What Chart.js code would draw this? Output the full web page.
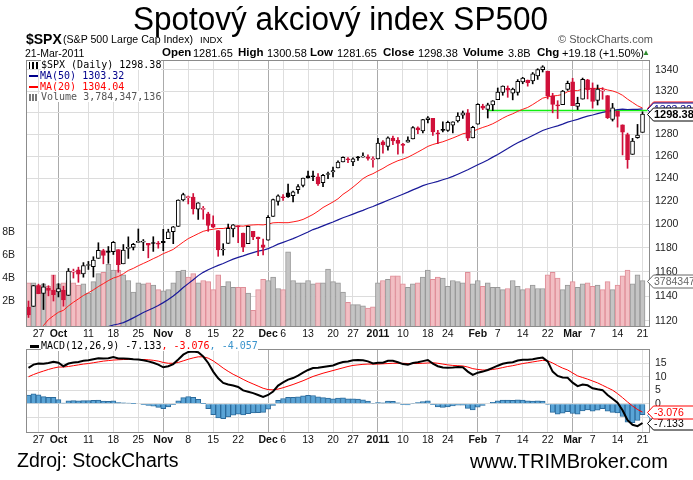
<!DOCTYPE html>
<html>
<head>
<meta charset="utf-8">
<title>SPX</title>
<script src="https://cdn.jsdelivr.net/npm/chart.js"></script>
<style>
  body { margin: 0; width: 693px; height: 480px; overflow: hidden; background: #fff; position: relative;
         font-family: "Liberation Sans", Arial, sans-serif; color: #000; }
  canvas { position: absolute; left: 0; }
  .t { position: absolute; white-space: nowrap; line-height: 1; }
  .lb { font-weight: bold; font-size: 11.5px; }
  .vl { font-size: 11px; }
  .leg { position: absolute; font-family: "DejaVu Sans Mono", monospace; font-size: 10px; line-height: 10.8px; white-space: nowrap; }
  .leg .tx { background: #fff; }
  .dash { display: inline-block; width: 9px; height: 2px; vertical-align: middle; margin: 0 2px 0 1px; }
</style>
</head>
<body>
<canvas id="priceChart" width="693" height="345" style="top:0"></canvas>
<canvas id="macdChart" width="693" height="112" style="top:338px"></canvas>

<div id="title" class="t" style="left:133px;top:1px;font-size:34px;transform-origin:0 0">Spotový akciový index SP500</div>

<div class="t" style="left:26px;top:32px;font-size:14px;font-weight:bold">$SPX</div>
<div class="t" style="left:63px;top:34px;font-size:10.6px">(S&amp;P 500 Large Cap Index)</div>
<div class="t" style="left:200px;top:35px;font-size:9.5px">INDX</div>
<div class="t" style="left:558px;top:34px;font-size:11px;color:#555">© StockCharts.com</div>
<div class="t" style="left:25px;top:48px;font-size:10.5px">21-Mar-2011</div>

<div class="t lb" style="left:162px;top:47px">Open</div><div class="t vl" style="left:193px;top:48px">1281.65</div>
<div class="t lb" style="left:238px;top:47px">High</div><div class="t vl" style="left:267px;top:48px">1300.58</div>
<div class="t lb" style="left:310px;top:47px">Low</div><div class="t vl" style="left:337px;top:48px">1281.65</div>
<div class="t lb" style="left:383px;top:47px">Close</div><div class="t vl" style="left:418px;top:48px">1298.38</div>
<div class="t lb" style="left:463px;top:47px">Volume</div><div class="t vl" style="left:508px;top:48px">3.8B</div>
<div class="t lb" style="left:537px;top:47px">Chg</div><div class="t vl" style="left:562px;top:48px">+19.18 (+1.50%)</div>
<div class="t" style="left:642px;top:49px;font-size:8px;color:#2e8b2e">▲</div>

<div class="leg" style="left:28px;top:60px">
  <div><span class="dash" style="width:10px;height:7px;background:linear-gradient(90deg,#000 0 1px,#fff 1px 3px,#000 3px 5px,#fff 5px 7px,#000 7px 9px,#fff 9px)"></span><span class="tx">$SPX (Daily) 1298.38</span></div>
  <div><span class="dash" style="background:#00008b"></span><span class="tx" style="color:#00008b">MA(50) 1303.32</span></div>
  <div><span class="dash" style="background:#f00"></span><span class="tx" style="color:#f00">MA(20) 1304.04</span></div>
  <div><span class="dash" style="width:10px;height:7px;background:linear-gradient(90deg,#777 0 2px,#fff 2px 3px,#777 3px 5px,#fff 5px 6px,#777 6px 8px,#fff 8px)"></span><span class="tx" style="color:#555">Volume 3,784,347,136</span></div>
</div>

<div class="leg" style="left:29px;top:341px">
  <span class="dash" style="height:3px;background:#000"></span><span class="tx">MACD(12,26,9) -7.133</span><span class="tx" style="color:#f00">, -3.076</span><span class="tx" style="color:#3a94cc">, -4.057</span>
</div>

<div class="t" style="left:17px;top:451px;font-size:19.5px">Zdroj: StockCharts</div>
<div class="t" style="left:470px;top:451px;font-size:20px">www.TRIMBroker.com</div>

<script>
// S&P 500 daily, 23-Sep-2010 .. 21-Mar-2011
const opens = [1131.1,1131.7,1148.6,1142.3,1146.6,1145.0,1143.5,1145.0,1140.7,1159.8,
  1161.6,1158.4,1165.3,1164.3,1171.3,1177.8,1177.5,1176.8,1178.6,1166.7,
  1179.6,1180.5,1184.7,1184.9,1183.8,1184.5,1183.9,1185.7,1187.9,1193.8,
  1198.3,1221.2,1223.2,1223.6,1213.1,1213.0,1209.1,1200.4,1194.8,1178.3,
  1183.8,1196.1,1198.1,1192.5,1183.7,1194.2,1189.1,1182.6,1186.6,1206.8,
  1219.9,1223.9,1227.3,1225.0,1230.1,1233.9,1242.5,1241.8,1241.6,1236.3,
  1243.6,1245.8,1249.4,1254.9,1257.5,1254.7,1259.1,1259.1,1259.4,1256.8,
  1257.6,1272.9,1268.8,1276.3,1274.4,1270.8,1272.6,1275.7,1285.8,1282.9,
  1293.2,1294.5,1280.8,1283.6,1283.3,1288.2,1292.0,1297.5,1299.6,1276.5,
  1289.1,1305.9,1302.8,1307.0,1311.9,1318.8,1322.5,1318.1,1318.7,1328.7,
  1330.4,1329.5,1334.4,1340.4,1338.9,1315.4,1307.1,1307.3,1321.6,1328.6,
  1305.5,1312.4,1330.7,1322.7,1311.1,1319.9,1315.7,1293.4,1301.2,1288.5,
  1279.5,1261.6,1276.7,1281.65];
const highs = [1136.1,1148.9,1149.9,1150.3,1148.6,1157.2,1150.3,1148.2,1162.8,1162.3,
  1163.9,1167.7,1168.7,1172.6,1184.4,1178.9,1181.2,1185.5,1178.6,1182.9,
  1189.4,1183.9,1196.1,1187.1,1183.8,1189.5,1185.5,1195.8,1195.9,1198.3,
  1221.3,1227.1,1224.6,1226.8,1218.8,1215.5,1210.5,1207.4,1194.8,1183.6,
  1200.3,1199.9,1198.9,1192.5,1198.6,1194.2,1189.1,1187.4,1207.6,1221.9,
  1225.6,1225.8,1235.1,1228.9,1234.7,1240.4,1246.7,1246.6,1244.3,1243.8,
  1245.8,1250.2,1255.8,1259.4,1258.6,1258.4,1259.9,1262.9,1261.1,1259.3,
  1276.2,1274.1,1277.6,1278.2,1276.8,1271.5,1277.6,1286.9,1286.7,1293.5,
  1296.1,1294.6,1283.4,1291.2,1291.9,1291.3,1299.7,1301.3,1302.7,1287.2,
  1308.1,1307.6,1308.6,1311.0,1322.9,1324.9,1324.8,1322.8,1330.8,1333.0,
  1330.4,1337.6,1341.2,1344.1,1338.9,1317.9,1310.9,1320.6,1329.4,1332.1,
  1314.2,1332.3,1331.1,1327.7,1325.7,1323.2,1315.7,1308.4,1301.2,1288.5,
  1280.9,1276.1,1288.9,1300.58];
const lows = [1122.8,1131.7,1142.0,1129.2,1140.3,1136.1,1139.4,1131.9,1140.7,1154.9,
  1151.4,1155.6,1162.0,1155.7,1171.3,1166.7,1167.1,1174.5,1159.7,1166.7,
  1171.2,1178.3,1184.7,1177.7,1171.7,1177.1,1179.8,1177.7,1187.9,1183.6,
  1198.3,1220.3,1217.7,1208.9,1204.3,1204.5,1194.1,1197.2,1173.0,1173.9,
  1183.8,1189.4,1184.4,1176.9,1183.7,1186.9,1173.6,1174.1,1186.6,1206.8,
  1216.6,1220.7,1223.3,1219.5,1226.8,1232.6,1240.3,1238.2,1234.0,1232.8,
  1239.9,1241.5,1249.4,1254.9,1254.1,1251.5,1256.2,1259.1,1256.3,1250.2,
  1257.6,1262.7,1265.4,1270.4,1261.7,1262.6,1272.6,1275.7,1280.5,1281.1,
  1290.2,1278.9,1271.3,1282.1,1282.5,1281.1,1291.0,1294.4,1274.0,1276.5,
  1289.1,1302.6,1294.8,1301.7,1311.9,1316.0,1314.1,1311.7,1316.1,1326.9,
  1324.6,1326.8,1331.0,1338.1,1312.6,1299.6,1294.3,1307.3,1320.6,1306.3,
  1302.6,1312.4,1312.6,1304.0,1306.9,1312.3,1294.3,1292.0,1286.4,1261.1,
  1249.1,1261.6,1276.2,1281.65];
const closes = [1124.83,1148.67,1142.16,1147.70,1144.73,1141.20,1146.24,1137.03,1160.75,1159.97,
  1158.06,1165.15,1165.32,1169.77,1178.10,1173.81,1176.19,1184.71,1165.90,1178.17,
  1180.26,1183.08,1185.62,1185.64,1182.45,1183.78,1183.26,1184.38,1193.57,1197.96,
  1221.06,1225.85,1223.25,1213.40,1218.71,1213.54,1199.21,1197.75,1178.34,1178.59,
  1196.69,1199.73,1197.84,1180.73,1198.35,1189.40,1187.76,1180.55,1206.07,1221.53,
  1224.71,1223.12,1223.75,1228.28,1233.00,1240.40,1240.46,1241.59,1235.23,1242.87,
  1243.91,1247.08,1254.60,1258.84,1256.77,1257.54,1258.51,1259.78,1257.88,1257.64,
  1271.87,1270.20,1276.56,1273.85,1271.50,1269.75,1274.48,1285.96,1283.76,1293.24,
  1295.02,1281.92,1280.26,1283.35,1290.84,1291.18,1296.63,1299.54,1276.34,1286.12,
  1307.59,1304.03,1307.10,1310.87,1319.05,1324.57,1320.88,1321.87,1329.15,1332.32,
  1328.01,1336.32,1340.43,1343.01,1315.44,1307.40,1306.10,1319.88,1327.22,1306.33,
  1308.44,1330.97,1321.15,1310.13,1321.82,1320.02,1295.11,1304.28,1296.39,1281.87,
  1256.88,1273.72,1279.20,1298.38];
const prevClose = 1134.28; // close before the first bar, sets its colour

// volume in billions
const volumes = [3.6,3.6,3.4,3.5,3.3,4.3,3.5,3.6,3.8,3.6,
  3.4,3.5,2.7,3.7,4.4,4.5,5.2,4.7,4.7,4.3,
  3.8,2.8,3.6,3.5,3.6,3.4,3.0,2.9,3.0,3.6,
  4.6,4.7,4.1,4.4,3.6,3.8,3.7,3.0,4.3,3.3,
  3.7,3.2,3.2,3.2,2.7,1.2,3.0,3.9,3.8,4.1,
  3.1,3.0,6.3,3.8,3.6,3.6,3.8,3.5,3.6,3.6,
  4.8,3.7,3.6,2.8,1.9,1.7,1.7,1.6,1.4,1.5,
  3.6,3.8,3.9,4.2,4.2,3.5,3.2,3.5,3.6,4.1,
  4.7,3.9,4.1,4.0,3.3,3.8,3.7,3.6,4.5,3.5,
  3.8,3.3,3.6,3.2,3.2,3.0,3.1,3.8,3.3,3.0,
  3.1,3.4,3.1,3.1,4.3,4.5,4.0,3.0,3.4,3.7,
  3.2,3.5,3.6,3.3,3.4,3.0,3.7,3.0,3.4,4.2,
  4.7,3.5,4.3,3.784];

const ma20 = [1102.5,1107.5,1111.4,1116.4,1121.1,1124.2,1127.0,1128.6,1132.1,1135.1,
  1137.8,1140.6,1142.8,1145.2,1147.9,1150.3,1152.8,1154.9,1156.2,1158.4,
  1161.2,1162.9,1165.1,1167.0,1168.9,1171.0,1172.9,1175.2,1176.9,1178.8,
  1181.9,1185.0,1187.9,1190.0,1192.1,1194.1,1195.2,1195.9,1196.5,1196.5,
  1197.3,1198.1,1198.8,1198.5,1199.3,1199.6,1199.8,1199.6,1200.3,1201.4,
  1201.6,1201.5,1201.5,1202.2,1203.0,1204.3,1206.4,1208.6,1211.4,1214.6,
  1217.0,1219.4,1222.2,1226.1,1229.0,1232.4,1236.0,1239.9,1242.5,1244.3,
  1246.7,1249.0,1251.7,1253.9,1255.9,1257.3,1259.0,1261.3,1263.7,1266.2,
  1268.8,1270.5,1271.8,1273.0,1274.7,1276.4,1278.3,1280.3,1281.2,1282.6,
  1284.4,1286.1,1287.6,1289.5,1291.9,1294.6,1296.9,1298.7,1301.0,1302.9,
  1304.6,1307.3,1310.3,1313.3,1314.5,1315.3,1315.8,1316.8,1319.4,1320.4,
  1320.4,1321.8,1322.5,1322.4,1322.6,1322.3,1321.0,1320.1,1318.5,1316.0,
  1312.4,1309.3,1306.2,1304.04];
const ma50 = [1097.6,1098.7,1100.2,1101.8,1103.0,1104.4,1105.5,1106.2,1107.1,1108.0,
  1109.0,1110.3,1111.6,1112.5,1113.6,1114.5,1115.5,1116.8,1117.6,1118.7,
  1120.5,1122.5,1124.6,1126.8,1128.6,1130.4,1132.5,1134.8,1137.3,1140.2,
  1143.5,1147.1,1150.3,1153.5,1156.9,1159.6,1161.8,1163.6,1165.4,1167.0,
  1168.8,1170.6,1172.1,1173.3,1174.8,1176.1,1177.3,1178.1,1179.4,1181.2,
  1183.2,1184.7,1186.3,1187.9,1189.7,1191.6,1193.5,1195.6,1197.1,1198.8,
  1200.5,1202.1,1203.9,1205.7,1207.3,1208.9,1210.6,1212.1,1213.9,1215.5,
  1217.3,1219.1,1220.9,1222.7,1224.4,1226.2,1228.0,1230.0,1231.8,1233.7,
  1235.2,1236.3,1237.5,1238.9,1240.3,1241.9,1243.8,1245.8,1247.8,1250.0,
  1252.2,1254.3,1256.5,1259.1,1261.5,1264.2,1266.8,1269.7,1272.1,1274.3,
  1276.4,1278.7,1281.0,1283.3,1284.9,1286.3,1287.6,1289.2,1291.0,1292.3,
  1293.6,1295.2,1296.6,1297.6,1298.9,1300.1,1300.9,1301.8,1302.5,1303.0,
  1302.7,1302.8,1302.8,1303.32];

const macdLine = [13.4,14.6,15.0,14.9,15.2,15.7,15.3,14.0,15.0,15.4,
  15.6,16.0,16.2,16.6,17.0,16.9,17.0,17.4,16.9,16.9,
  16.8,16.6,16.5,16.2,15.8,15.3,14.6,13.6,14.0,14.8,
  16.5,18.3,19.3,19.5,19.2,17.6,15.2,12.0,9.5,7.8,
  7.2,6.8,6.3,5.0,4.5,4.0,3.3,2.6,3.3,4.6,
  6.8,8.0,9.0,9.6,10.5,11.6,12.6,13.3,13.4,13.7,
  14.0,14.3,15.0,15.6,15.8,16.2,16.3,16.2,15.8,15.0,
  15.3,15.3,16.0,16.0,15.5,14.8,14.6,15.2,15.5,15.9,
  16.3,15.0,14.0,13.5,13.4,13.5,13.7,13.6,12.0,10.8,
  11.6,12.0,12.6,13.4,14.2,14.9,15.3,15.5,16.1,16.4,
  16.4,16.6,17.0,17.2,15.8,12.0,10.4,9.8,9.7,7.9,
  6.6,7.2,6.9,5.8,5.4,5.1,3.3,1.9,0.4,-2.4,
  -6.1,-7.8,-8.3,-7.133];
const signalLine = [10.1,10.9,11.6,12.2,12.8,13.3,13.7,13.7,13.9,14.2,
  14.5,14.8,15.0,15.3,15.6,15.9,16.1,16.3,16.4,16.5,
  16.5,16.5,16.5,16.5,16.4,16.2,15.9,15.4,15.1,15.1,
  15.4,16.0,16.6,17.1,17.5,17.5,17.0,16.0,14.7,13.3,
  12.1,11.0,10.1,9.1,8.2,7.4,6.6,5.8,5.3,5.2,
  5.5,6.0,6.6,7.2,7.9,8.6,9.4,10.2,10.8,11.4,
  11.9,12.4,12.9,13.4,13.9,14.3,14.5,14.7,14.8,14.8,
  14.8,14.9,15.0,15.1,15.1,15.1,15.0,15.0,15.0,15.1,
  15.2,15.3,15.1,14.8,14.5,14.3,14.2,14.1,13.7,13.1,
  12.8,12.6,12.6,12.8,13.1,13.5,13.9,14.2,14.6,15.0,
  15.3,15.6,15.9,16.2,16.0,15.2,14.2,13.3,12.6,11.5,
  10.4,9.8,9.2,8.5,7.8,6.9,6.0,5.1,3.8,2.3,
  0.7,-0.8,-2.1,-3.076];
const histogram = [3.3,3.7,3.4,2.7,2.4,2.4,1.6,0.3,1.1,1.2,
  1.1,1.2,1.2,1.3,1.4,1.0,0.9,1.1,0.5,0.4,
  0.3,0.1,0.0,-0.3,-0.6,-0.9,-1.3,-1.8,-1.1,-0.3,
  1.1,2.3,2.7,2.4,1.7,0.1,-1.8,-4.0,-5.2,-5.5,
  -4.9,-4.2,-3.8,-4.1,-3.7,-3.4,-3.3,-3.2,-2.0,-0.6,
  1.3,2.0,2.4,2.4,2.6,3.0,3.2,3.1,2.6,2.3,
  2.1,1.9,2.1,2.2,1.9,1.9,1.8,1.5,1.0,0.2,
  0.5,0.4,1.0,0.9,0.4,-0.3,-0.4,0.2,0.5,0.8,
  1.1,-0.3,-1.1,-1.3,-1.1,-0.8,-0.5,-0.5,-1.7,-2.3,
  -1.2,-0.6,0.0,0.6,1.1,1.4,1.4,1.3,1.5,1.4,
  1.1,1.0,1.1,1.0,-0.2,-3.2,-3.8,-3.5,-2.9,-3.6,
  -3.8,-2.6,-2.3,-2.7,-2.4,-1.8,-2.7,-3.2,-3.4,-4.7,
  -6.8,-7.0,-6.2,-4.057];

// horizontal level drawn in green from 2-Feb to the right edge
const greenLevel = 1301.8;
const greenFrom = 92;

// axis ticks
const priceTicks = [1120,1140,1160,1180,1200,1220,1240,1260,1280,1300,1320,1340];
const volTicks = [2,4,6,8];
const macdTicks = [-5,0,5,10,15];
const tickIdx = [2,6,12,17,22,27,32,37,42,48,51,56,61,65,70,75,80,84,90,94,99,104,109,113,118,123];
const tickText = ['27','Oct','11','18','25','Nov','8','15','22','Dec','6','13','20','27','2011','10','18','24','Feb','7','14','22','Mar','7','14','21'];
const monthIdx = [6,27,48,70,90,109];

const FONT = '"Liberation Sans", Arial, sans-serif';
const RED = '#d0103a';
Chart.defaults.font.family = FONT;

// one extra empty slot at the end gives the small right margin of the plot
const xLabels = [];
for (let i = 0; i <= closes.length; i++) {
  const k = tickIdx.indexOf(i);
  xLabels.push(k >= 0 ? tickText[k] : '');
}

const upDay = closes.map((c, i) => c >= (i ? closes[i - 1] : prevClose));
const candleStroke = upDay.map(u => u ? '#000' : RED);
const candleFill = closes.map((c, i) => c < opens[i] ? candleStroke[i] : '#fff');

function drawTag(ctx, x, y, text, color, bold) {
  ctx.beginPath();
  ctx.moveTo(x - 2.5, y + 0.5);
  ctx.lineTo(x + 3.5, y - 6);
  ctx.lineTo(x + 60, y - 6);
  ctx.lineTo(x + 60, y + 7);
  ctx.lineTo(x + 3.5, y + 7);
  ctx.closePath();
  ctx.fillStyle = '#fff';
  ctx.fill();
  ctx.strokeStyle = color;
  ctx.lineWidth = 1;
  ctx.stroke();
  ctx.fillStyle = color;
  ctx.font = (bold ? 'bold 11px ' : '10.5px ') + FONT;
  ctx.textBaseline = 'middle';
  ctx.textAlign = 'left';
  ctx.fillText(text, x + 4, y + 1);
}

const decor = {
  id: 'decor',
  afterDraw(chart, args, opts) {
    const { ctx, chartArea: a } = chart;
    ctx.save();
    ctx.strokeStyle = '#8c8c8c';
    ctx.lineWidth = 1;
    ctx.strokeRect(Math.round(a.left) + 0.5, Math.round(a.top) + 0.5,
      Math.round(a.right - a.left) - 1, Math.round(a.bottom - a.top) - 1);
    (opts.tags || []).forEach(t => {
      const y = Math.round(chart.scales[t.axis].getPixelForValue(t.value));
      drawTag(ctx, Math.round(a.right), y, t.text, t.color, t.bold);
    });
    ctx.restore();
  }
};

function xAxis(h) {
  return {
    type: 'category',
    offset: true,
    grid: {
      offset: false,
      drawTicks: false,
      color: c => monthIdx.includes(c.tick && c.tick.value) ? '#ababab' : '#dedede'
    },
    border: { display: false },
    ticks: {
      autoSkip: false,
      maxRotation: 0,
      padding: 1,
      color: '#111',
      font: c => ({ size: 10.5, weight: monthIdx.includes(c.tick && c.tick.value) ? 'bold' : 'normal' })
    },
    afterBuildTicks: s => { s.ticks = tickIdx.map(v => ({ value: v })); },
    afterFit: s => { s.height = h; }
  };
}

const last = closes.length - 1;

new Chart(document.getElementById('priceChart'), {
  type: 'bar',
  data: {
    labels: xLabels,
    datasets: [
      {
        type: 'bar', label: 'body', yAxisID: 'y', order: 0, grouped: false,
        data: closes.map((c, i) => [opens[i], c]),
        backgroundColor: candleFill, borderColor: candleStroke,
        borderWidth: 1, borderSkipped: false, barThickness: 4, minBarLength: 1
      },
      {
        type: 'bar', label: 'wick', yAxisID: 'y', order: 1, grouped: false,
        data: highs.map((h, i) => [lows[i], h]),
        backgroundColor: candleStroke, barThickness: 1
      },
      {
        type: 'line', label: 'MA(20)', yAxisID: 'y', order: 2, data: ma20,
        borderColor: '#ff1a1a', borderWidth: 1, pointRadius: 0, tension: 0
      },
      {
        type: 'line', label: 'MA(50)', yAxisID: 'y', order: 2, data: ma50,
        borderColor: '#1a1a99', borderWidth: 1.2, pointRadius: 0, tension: 0
      },
      {
        type: 'line', label: 'level', yAxisID: 'y', order: 2,
        data: xLabels.map((_, i) => i >= greenFrom ? greenLevel : null),
        borderColor: '#11ee11', borderWidth: 1.6, pointRadius: 0
      },
      {
        type: 'bar', label: 'Volume', yAxisID: 'yv', order: 3, grouped: false,
        data: volumes, base: -0.25,
        backgroundColor: upDay.map(u => u ? '#c4c4c4' : '#f2bec3'),
        borderColor: upDay.map(u => u ? '#989898' : '#df8e98'),
        borderWidth: 1, borderSkipped: 'start',
        barPercentage: 1, categoryPercentage: 1
      }
    ]
  },
  options: {
    responsive: false,
    animation: false,
    events: [],
    layout: { padding: { top: 60 } },
    plugins: {
      legend: { display: false },
      tooltip: { enabled: false },
      decor: {
        tags: [
          { axis: 'yv', value: volumes[last], text: '3784347', color: '#666' },
          { axis: 'y', value: ma20[last], text: '1304.04', color: '#f00' },
          { axis: 'y', value: ma50[last], text: '1303.32', color: '#00008b' },
          { axis: 'y', value: closes[last], text: '1298.38', color: '#000', bold: true }
        ]
      }
    },
    scales: {
      x: xAxis(18),
      y: {
        type: 'logarithmic', position: 'right', bounds: 'data',
        min: 1115.2, max: 1349.6,
        grid: { color: '#dcdcdc', drawTicks: false },
        border: { display: false },
        ticks: { padding: 5, color: '#222', font: { size: 10.5 }, callback: v => String(v) },
        afterBuildTicks: s => { s.ticks = priceTicks.map(v => ({ value: v })); },
        afterFit: s => { s.width = 43; }
      },
      yv: {
        type: 'linear', position: 'left', bounds: 'data',
        min: -0.25, max: 23,
        grid: { display: false },
        border: { display: false },
        ticks: { padding: 3, color: '#222', font: { size: 10.5 }, callback: v => v + 'B' },
        afterBuildTicks: s => { s.ticks = volTicks.map(v => ({ value: v })); },
        afterFit: s => { s.width = 26; }
      }
    }
  },
  plugins: [decor]
});

new Chart(document.getElementById('macdChart'), {
  type: 'bar',
  data: {
    labels: xLabels,
    datasets: [
      {
        type: 'line', label: 'MACD', order: 0, data: macdLine,
        borderColor: '#000', borderWidth: 2, pointRadius: 0, tension: 0
      },
      {
        type: 'line', label: 'Signal', order: 1, data: signalLine,
        borderColor: '#ff0000', borderWidth: 1, pointRadius: 0, tension: 0
      },
      {
        type: 'bar', label: 'Hist', order: 2, data: histogram,
        backgroundColor: '#5aa4d6', borderColor: '#2c6b9c',
        borderWidth: 1, borderSkipped: 'start',
        barPercentage: 1, categoryPercentage: 1
      }
    ]
  },
  options: {
    responsive: false,
    animation: false,
    events: [],
    layout: { padding: { top: 3, left: 26 } },
    plugins: {
      legend: { display: false },
      tooltip: { enabled: false },
      decor: {
        tags: [
          { axis: 'y', value: histogram[last], text: '-4.057', color: '#3a94cc' },
          { axis: 'y', value: macdLine[last], text: '-7.133', color: '#000' },
          { axis: 'y', value: signalLine[last], text: '-3.076', color: '#f00' }
        ]
      }
    },
    scales: {
      x: xAxis(17),
      y: {
        type: 'linear', position: 'right', bounds: 'data',
        min: -10.85, max: 20.3,
        grid: { color: '#dcdcdc', drawTicks: false },
        border: { display: false },
        ticks: { padding: 5, color: '#222', font: { size: 10.5 }, callback: v => v < 0 ? '' : String(v) },
        afterBuildTicks: s => { s.ticks = macdTicks.map(v => ({ value: v })); },
        afterFit: s => { s.width = 43; }
      }
    }
  },
  plugins: [decor]
});

const title = document.getElementById('title');
title.style.transform = 'scaleX(' + (415 / title.offsetWidth) + ')';
</script>
</body>
</html>
